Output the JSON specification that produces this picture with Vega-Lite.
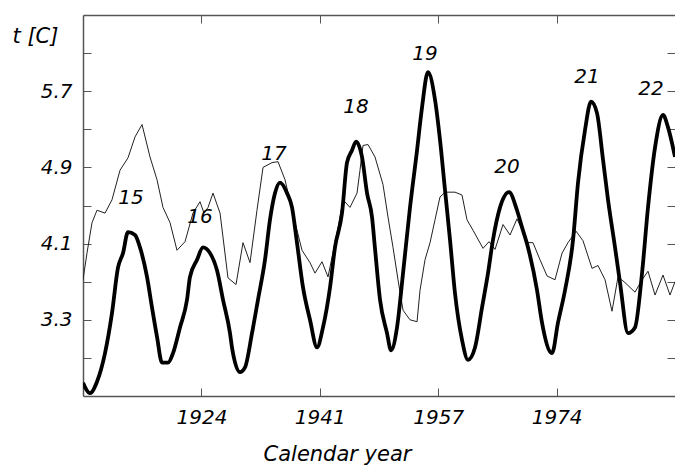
{
  "$schema": "https://vega.github.io/schema/vega-lite/v6.json",
  "autosize": {"type": "none"},
  "padding": {"left": 83, "top": 15, "right": 0, "bottom": 69},
  "width": 592,
  "height": 381,
  "background": "white",
  "config": {"view": {"stroke": null}},
  "datasets": {
    "cycle": [
      {"year": 1907.70, "t": 2.64}, {"year": 1908.69, "t": 2.53}, {"year": 1909.67, "t": 2.65}, {"year": 1910.80, "t": 2.95},
      {"year": 1911.78, "t": 3.37}, {"year": 1912.63, "t": 3.85}, {"year": 1913.33, "t": 4.00}, {"year": 1914.03, "t": 4.22},
      {"year": 1915.02, "t": 4.19}, {"year": 1915.72, "t": 4.06}, {"year": 1916.71, "t": 3.75}, {"year": 1917.41, "t": 3.43},
      {"year": 1918.12, "t": 3.12}, {"year": 1918.82, "t": 2.85}, {"year": 1919.67, "t": 2.85}, {"year": 1920.37, "t": 2.95},
      {"year": 1921.35, "t": 3.22}, {"year": 1922.34, "t": 3.51}, {"year": 1922.76, "t": 3.75}, {"year": 1923.75, "t": 3.93},
      {"year": 1924.59, "t": 4.06}, {"year": 1925.58, "t": 4.00}, {"year": 1926.56, "t": 3.82}, {"year": 1927.41, "t": 3.51},
      {"year": 1928.39, "t": 3.16}, {"year": 1928.67, "t": 3.01}, {"year": 1929.80, "t": 2.75}, {"year": 1930.50, "t": 2.80},
      {"year": 1931.49, "t": 3.16}, {"year": 1932.33, "t": 3.51}, {"year": 1933.32, "t": 3.93}, {"year": 1934.02, "t": 4.35},
      {"year": 1934.73, "t": 4.63}, {"year": 1935.43, "t": 4.74}, {"year": 1936.42, "t": 4.63}, {"year": 1937.12, "t": 4.48},
      {"year": 1937.82, "t": 4.11}, {"year": 1938.67, "t": 3.64}, {"year": 1939.65, "t": 3.30}, {"year": 1940.64, "t": 3.01},
      {"year": 1941.48, "t": 3.22}, {"year": 1942.47, "t": 3.64}, {"year": 1943.17, "t": 4.06}, {"year": 1944.16, "t": 4.42},
      {"year": 1944.86, "t": 4.95}, {"year": 1945.57, "t": 5.08}, {"year": 1946.13, "t": 5.17}, {"year": 1946.97, "t": 5.01},
      {"year": 1947.68, "t": 4.63}, {"year": 1948.38, "t": 4.38}, {"year": 1948.80, "t": 4.05}, {"year": 1949.51, "t": 3.51},
      {"year": 1950.49, "t": 3.16}, {"year": 1951.06, "t": 2.98}, {"year": 1951.90, "t": 3.22}, {"year": 1952.75, "t": 3.79},
      {"year": 1953.73, "t": 4.48}, {"year": 1954.72, "t": 5.08}, {"year": 1955.42, "t": 5.53}, {"year": 1956.26, "t": 5.90},
      {"year": 1957.25, "t": 5.61}, {"year": 1957.95, "t": 5.19}, {"year": 1958.66, "t": 4.66}, {"year": 1959.36, "t": 4.14},
      {"year": 1960.06, "t": 3.58}, {"year": 1961.05, "t": 3.09}, {"year": 1961.89, "t": 2.88}, {"year": 1962.88, "t": 3.01},
      {"year": 1963.87, "t": 3.43}, {"year": 1964.71, "t": 3.79}, {"year": 1965.41, "t": 4.14}, {"year": 1966.40, "t": 4.48},
      {"year": 1967.67, "t": 4.64}, {"year": 1968.79, "t": 4.45}, {"year": 1969.50, "t": 4.27}, {"year": 1970.34, "t": 4.06},
      {"year": 1971.61, "t": 3.61}, {"year": 1972.31, "t": 3.27}, {"year": 1973.72, "t": 2.95}, {"year": 1974.56, "t": 3.27},
      {"year": 1975.55, "t": 3.61}, {"year": 1976.68, "t": 4.14}, {"year": 1977.38, "t": 4.74}, {"year": 1978.36, "t": 5.29},
      {"year": 1979.21, "t": 5.59}, {"year": 1980.05, "t": 5.47}, {"year": 1980.90, "t": 4.98}, {"year": 1981.60, "t": 4.56},
      {"year": 1982.59, "t": 4.06}, {"year": 1983.29, "t": 3.69}, {"year": 1984.42, "t": 3.16}, {"year": 1985.40, "t": 3.22},
      {"year": 1986.39, "t": 3.79}, {"year": 1987.23, "t": 4.48}, {"year": 1988.22, "t": 5.11}, {"year": 1989.34, "t": 5.45},
      {"year": 1990.05, "t": 5.32}, {"year": 1991.03, "t": 5.01}
    ],
    "temp": [
      {"year": 1907.70, "t": 3.72}, {"year": 1908.26, "t": 4.00}, {"year": 1908.97, "t": 4.32}, {"year": 1909.67, "t": 4.45},
      {"year": 1910.80, "t": 4.42}, {"year": 1911.78, "t": 4.56}, {"year": 1912.91, "t": 4.87}, {"year": 1914.03, "t": 5.00},
      {"year": 1915.02, "t": 5.22}, {"year": 1916.01, "t": 5.35}, {"year": 1917.13, "t": 5.01}, {"year": 1918.12, "t": 4.77},
      {"year": 1918.96, "t": 4.48}, {"year": 1919.95, "t": 4.32}, {"year": 1920.93, "t": 4.03}, {"year": 1922.06, "t": 4.12},
      {"year": 1923.18, "t": 4.42}, {"year": 1924.17, "t": 4.54}, {"year": 1924.73, "t": 4.42}, {"year": 1925.30, "t": 4.48},
      {"year": 1926.00, "t": 4.63}, {"year": 1926.99, "t": 4.42}, {"year": 1928.11, "t": 3.74}, {"year": 1929.24, "t": 3.67},
      {"year": 1930.22, "t": 4.11}, {"year": 1931.21, "t": 3.90}, {"year": 1932.19, "t": 4.45}, {"year": 1933.04, "t": 4.90},
      {"year": 1934.30, "t": 4.95}, {"year": 1935.15, "t": 4.96}, {"year": 1936.14, "t": 4.77}, {"year": 1937.12, "t": 4.45},
      {"year": 1938.53, "t": 4.03}, {"year": 1939.65, "t": 3.90}, {"year": 1940.36, "t": 3.79}, {"year": 1941.34, "t": 3.91},
      {"year": 1942.19, "t": 3.75}, {"year": 1943.60, "t": 4.27}, {"year": 1944.30, "t": 4.56}, {"year": 1945.28, "t": 4.48},
      {"year": 1946.27, "t": 4.63}, {"year": 1946.69, "t": 4.87}, {"year": 1947.11, "t": 5.13}, {"year": 1947.82, "t": 5.14},
      {"year": 1948.80, "t": 5.01}, {"year": 1949.93, "t": 4.72}, {"year": 1950.63, "t": 4.38}, {"year": 1951.34, "t": 4.06},
      {"year": 1952.04, "t": 3.72}, {"year": 1952.75, "t": 3.40}, {"year": 1953.73, "t": 3.30}, {"year": 1954.72, "t": 3.28},
      {"year": 1955.14, "t": 3.61}, {"year": 1955.84, "t": 3.93}, {"year": 1956.55, "t": 4.11}, {"year": 1957.25, "t": 4.35},
      {"year": 1957.95, "t": 4.59}, {"year": 1958.66, "t": 4.64}, {"year": 1960.06, "t": 4.64}, {"year": 1961.05, "t": 4.61},
      {"year": 1961.75, "t": 4.35}, {"year": 1962.60, "t": 4.24}, {"year": 1964.01, "t": 4.05}, {"year": 1964.85, "t": 4.12},
      {"year": 1965.70, "t": 4.04}, {"year": 1966.82, "t": 4.30}, {"year": 1967.81, "t": 4.19}, {"year": 1968.79, "t": 4.36},
      {"year": 1970.34, "t": 4.11}, {"year": 1971.04, "t": 4.11}, {"year": 1972.03, "t": 3.93}, {"year": 1973.02, "t": 3.76},
      {"year": 1974.14, "t": 3.72}, {"year": 1975.13, "t": 4.00}, {"year": 1975.97, "t": 4.11}, {"year": 1977.10, "t": 4.23},
      {"year": 1978.08, "t": 4.13}, {"year": 1979.35, "t": 3.84}, {"year": 1980.19, "t": 3.87}, {"year": 1981.18, "t": 3.72},
      {"year": 1982.16, "t": 3.39}, {"year": 1983.01, "t": 3.75}, {"year": 1984.00, "t": 3.69}, {"year": 1985.40, "t": 3.59},
      {"year": 1986.39, "t": 3.72}, {"year": 1987.23, "t": 3.81}, {"year": 1988.22, "t": 3.56}, {"year": 1989.34, "t": 3.77},
      {"year": 1990.33, "t": 3.56}, {"year": 1991.03, "t": 3.70}
    ],
    "labels": [
      {"year": 1914.46, "t": 4.58, "cycle": "15"},
      {"year": 1924.17, "t": 4.38, "cycle": "16"},
      {"year": 1934.59, "t": 5.04, "cycle": "17"},
      {"year": 1946.13, "t": 5.53, "cycle": "18"},
      {"year": 1955.84, "t": 6.09, "cycle": "19"},
      {"year": 1967.38, "t": 4.90, "cycle": "20"},
      {"year": 1978.65, "t": 5.85, "cycle": "21"},
      {"year": 1987.65, "t": 5.72, "cycle": "22"}
    ]
  },
  "layer": [
    {
      "data": {"name": "temp"},
      "mark": {"type": "line", "color": "#222222", "strokeWidth": 1, "clip": true},
      "encoding": {
        "x": {
          "field": "year", "type": "quantitative",
          "scale": {"domain": [1907.7, 1991.03], "nice": false, "zero": false},
          "axis": {
            "orient": "bottom",
            "values": [1924.37, 1941.03, 1957.7, 1974.37],
            "labelExpr": "floor(datum.value)",
            "grid": false,
            "domainColor": "#555555", "domainWidth": 1.5,
            "tickColor": "#555555", "tickWidth": 1, "tickSize": -8,
            "labelFont": "DejaVu Sans", "labelFontStyle": "italic", "labelFontSize": 20, "labelColor": "#000000",
            "labelBaseline": "middle", "labelPadding": 29.5, "labelFlush": false, "labelOverlap": false,
            "title": "Calendar year",
            "titleFont": "DejaVu Sans", "titleFontStyle": "italic", "titleFontWeight": "normal", "titleFontSize": 21, "titleColor": "#000000",
            "titleX": 254, "titleY": 64, "titleAlign": "center", "titleBaseline": "alphabetic"
          }
        },
        "y": {
          "field": "t", "type": "quantitative",
          "scale": {"domain": [2.5, 6.5], "nice": false, "zero": false},
          "axis": {
            "orient": "left",
            "values": [2.9, 3.3, 3.7, 4.1, 4.5, 4.9, 5.3, 5.7, 6.1],
            "labelExpr": "round(datum.value * 10) % 8 == 1 ? format(datum.value, '.1f') : ''",
            "grid": false,
            "domainColor": "#555555", "domainWidth": 1.5,
            "tickColor": "#555555", "tickWidth": 1, "tickSize": -8,
            "labelFont": "DejaVu Sans", "labelFontStyle": "italic", "labelFontSize": 20, "labelColor": "#000000",
            "labelAlign": "right", "labelBaseline": "middle", "labelPadding": 19, "labelFlush": false, "labelOverlap": false,
            "title": "t [C]",
            "titleFont": "DejaVu Sans", "titleFontStyle": "italic", "titleFontWeight": "normal", "titleFontSize": 21, "titleColor": "#000000",
            "titleAngle": 0, "titleX": -71, "titleY": 27, "titleAlign": "left", "titleBaseline": "alphabetic"
          }
        }
      }
    },
    {
      "data": {"name": "cycle"},
      "mark": {"type": "line", "color": "#000000", "strokeWidth": 3.8, "strokeJoin": "round", "interpolate": "monotone", "clip": true},
      "encoding": {
        "x": {
          "field": "year", "type": "quantitative",
          "axis": {
            "orient": "top",
            "values": [1924.37, 1941.03, 1957.7, 1974.37],
            "labels": false, "title": null, "grid": false,
            "domainColor": "#555555", "domainWidth": 1.5,
            "tickColor": "#555555", "tickWidth": 1, "tickSize": -8
          }
        },
        "y": {
          "field": "t", "type": "quantitative",
          "axis": {
            "orient": "right",
            "values": [2.9, 3.3, 3.7, 4.1, 4.5, 4.9, 5.3, 5.7, 6.1],
            "labels": false, "title": null, "grid": false, "domain": false,
            "tickColor": "#555555", "tickWidth": 1, "tickSize": -8
          }
        }
      }
    },
    {
      "data": {"name": "labels"},
      "mark": {"type": "text", "font": "DejaVu Sans", "fontStyle": "italic", "fontSize": 20, "color": "#000000", "align": "center", "baseline": "middle"},
      "encoding": {
        "x": {"field": "year", "type": "quantitative", "axis": null},
        "y": {"field": "t", "type": "quantitative", "axis": null},
        "text": {"field": "cycle"}
      }
    }
  ],
  "resolve": {"axis": {"x": "independent", "y": "independent"}}
}
